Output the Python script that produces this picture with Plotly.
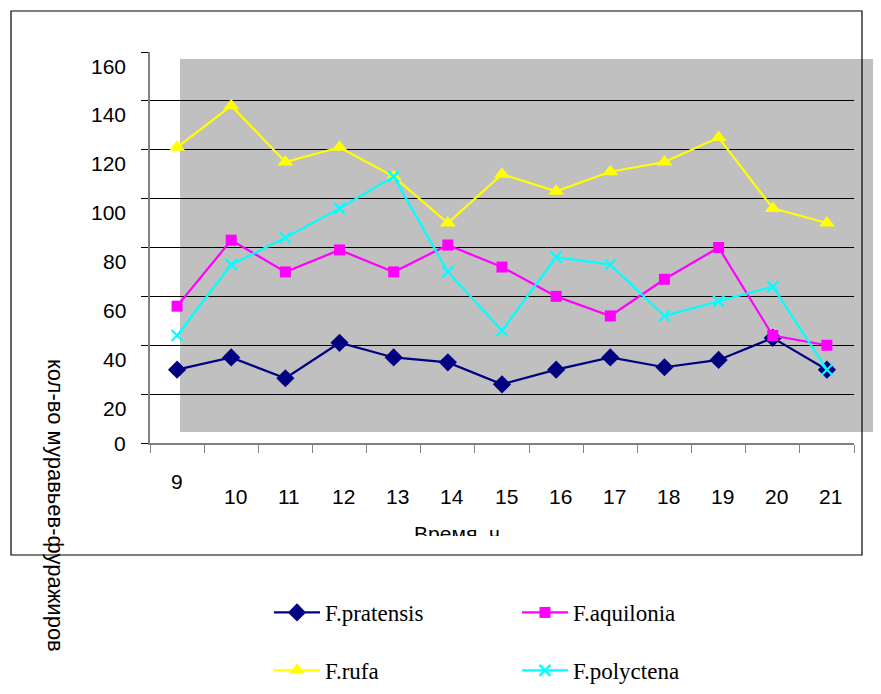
import plotly.graph_objects as go

# ---------------- data ----------------
hours = ["9", "10", "11", "12", "13", "14", "15", "16", "17", "18", "19", "20", "21"]
f_pratensis = [30, 35, 26.5, 41, 35, 33, 24, 30, 35, 31, 34, 43, 30]
f_aquilonia = [56, 83, 70, 79, 70, 81, 72, 60, 52, 67, 80, 44, 40]
f_rufa = [121, 138, 115, 121, 109, 90, 110, 103, 111, 115, 125, 96, 90]
f_polyctena = [44, 73, 84, 96, 109, 70, 46, 76, 73, 52, 58, 64, 30]
y_ticks = [0, 20, 40, 60, 80, 100, 120, 140, 160]
x_title = "Время, ч"
y_title = "кол-во муравьев-фуражиров"

# ---------------- geometry helpers (screen pixels -> paper) ----------------
W, H = 881, 694
OFF = 8  # page body margin
PL, PR, PT, PB = 150, 854, 52, 443


def px(x):
    return (x - OFF) / W


def py(y):
    return 1 - (y - OFF) / H


SANS = "Arial, Liberation Sans, sans-serif"
SERIF = "Times New Roman, Liberation Serif, serif"

fig = go.Figure()

series = [
    ("F.pratensis", f_pratensis, "#000080", "diamond", 14, "legend"),
    ("F.aquilonia", f_aquilonia, "#FF00FF", "square", 11, "legend2"),
    ("F.rufa", f_rufa, "#FFFF00", "triangle-up", 14, "legend"),
    ("F.polyctena", f_polyctena, "#00FFFF", "x-thin", 11, "legend2"),
]
for name, vals, col, sym, sz, leg in series:
    marker = dict(symbol=sym, size=sz, color=col)
    if sym == "x-thin":
        marker["line"] = dict(color=col, width=2.2)
    fig.add_trace(go.Scatter(
        x=hours, y=vals, name=name, mode="lines+markers",
        line=dict(color=col, width=2.2), marker=marker,
        legend=leg, legendgroup=name, cliponaxis=False,
    ))

# clipped x-axis title (only its upper part is visible, as in the original)
fig.add_trace(go.Scatter(
    x=[457 - OFF], y=[525 - OFF], mode="text", text=[x_title],
    textposition="bottom center",
    textfont=dict(family=SANS, size=21, color="black"),
    xaxis="x2", yaxis="y2", showlegend=False, hoverinfo="skip",
    cliponaxis=True,
))

shapes = [
    # grey plot-area fill, offset from the axes
    dict(type="rect", xref="paper", yref="paper", layer="below",
         x0=px(180), x1=1.05, y0=py(432), y1=py(59),
         fillcolor="#C0C0C0", line=dict(width=0)),
    # chart border
    dict(type="rect", xref="paper", yref="paper", layer="below",
         x0=px(11), x1=px(862), y0=py(555), y1=py(11),
         fillcolor="rgba(0,0,0,0)", line=dict(color="#000000", width=1.2)),
]

annotations = []
for v in y_ticks:
    annotations.append(dict(
        text=str(v), xref="paper", yref="y", x=px(128), y=v,
        xanchor="right", yanchor="middle", showarrow=False,
        yshift=-14 if v else 0,
        font=dict(family=SANS, size=21, color="black"),
    ))
for i, h in enumerate(hours):
    annotations.append(dict(
        text=h, xref="x", yref="paper", x=i,
        y=py(481) if i == 0 else py(496),
        xanchor="center", yanchor="middle", showarrow=False,
        xshift=0 if i == 0 else 4,
        font=dict(family=SANS, size=21, color="black"),
    ))
annotations.append(dict(
    text=y_title, xref="paper", yref="paper", x=px(56), y=py(505),
    textangle=90, showarrow=False, xanchor="center", yanchor="middle",
    font=dict(family=SANS, size=22, color="black"),
))

legend_common = dict(
    xanchor="left", yanchor="top", bgcolor="rgba(0,0,0,0)",
    font=dict(family=SERIF, size=23, color="black"),
    tracegroupgap=25, orientation="v", itemwidth=46,
)

fig.update_layout(
    width=W, height=H,
    margin=dict(l=0, r=0, t=0, b=0, autoexpand=False),
    paper_bgcolor="white", plot_bgcolor="white",
    showlegend=True,
    legend=dict(x=px(269), y=py(591), **legend_common),
    legend2=dict(x=px(517), y=py(591), **legend_common),
    xaxis=dict(
        type="category", domain=[px(PL), px(PR)], range=[-0.5, 12.5],
        tickson="boundaries", ticks="outside", ticklen=8, tickwidth=1,
        tickcolor="#808080", showticklabels=False, showgrid=False,
        showline=True, linecolor="#808080", linewidth=1.5,
        zeroline=False, anchor="y", fixedrange=True,
    ),
    yaxis=dict(
        domain=[py(PB), py(PT)], range=[0, 160], tickvals=y_ticks,
        ticks="outside", ticklen=7, tickcolor="#000000", tickwidth=1,
        showticklabels=False, showgrid=True, gridcolor="#000000", gridwidth=1,
        showline=True, linecolor="#808080", linewidth=1.5,
        zeroline=False, anchor="x", fixedrange=True,
    ),
    xaxis2=dict(domain=[0, 1], range=[0, W], visible=False, anchor="y2",
                fixedrange=True),
    yaxis2=dict(domain=[py(536), py(500)], range=[536 - OFF, 500 - OFF],
                visible=False, anchor="x2", fixedrange=True),
    shapes=shapes,
    annotations=annotations,
)

fig.write_html("out.html")
